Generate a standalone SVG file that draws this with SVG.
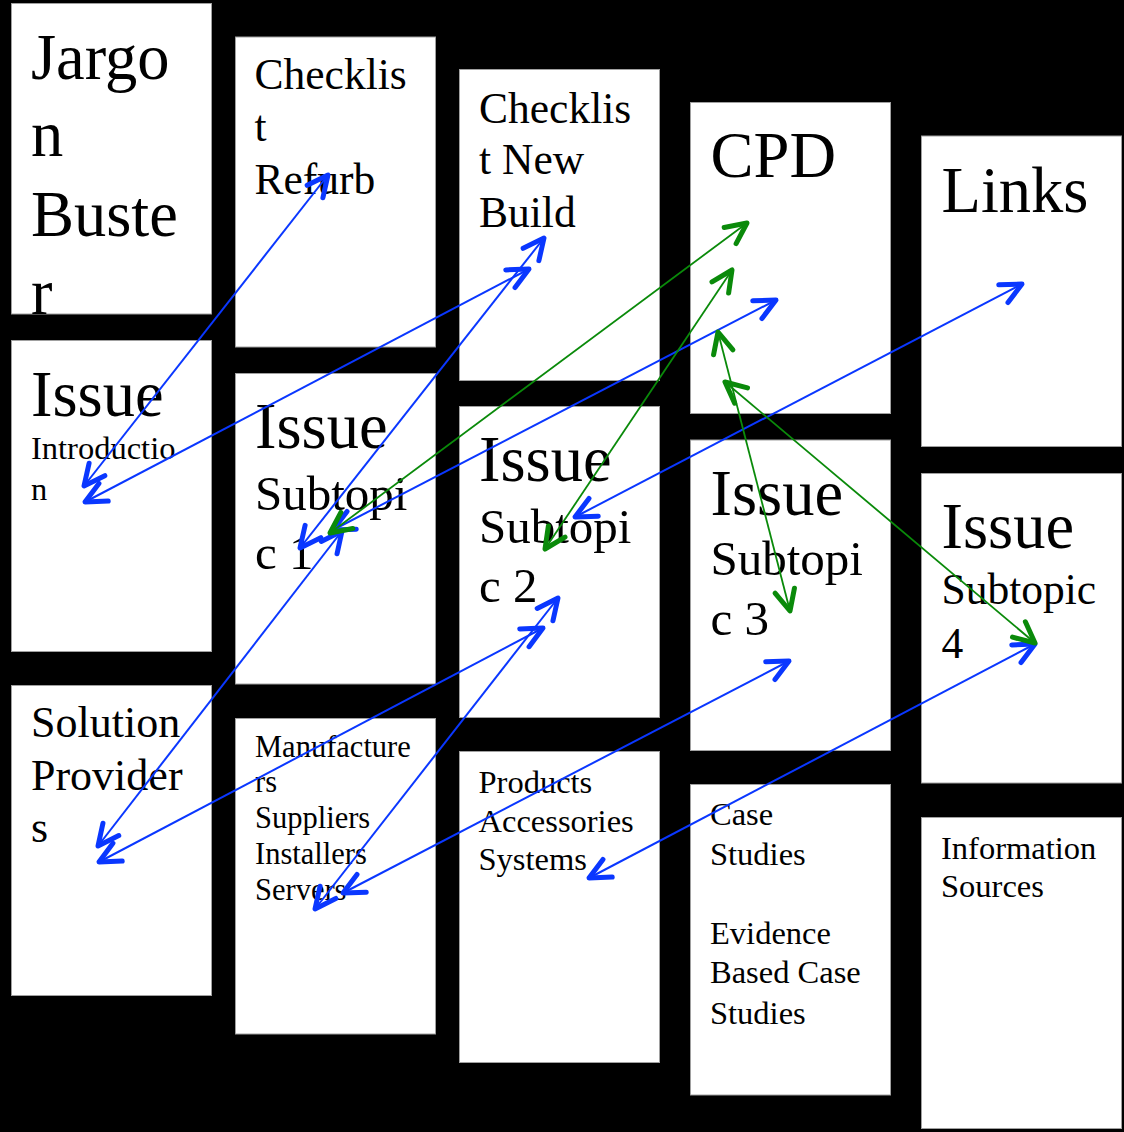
<svg xmlns="http://www.w3.org/2000/svg" width="1124" height="1132" viewBox="0 0 1124 1132">
<style>
.box{fill:#ffffff;stroke:#a0a0a0;stroke-width:1}
text{font-family:"Liberation Serif","Times New Roman",serif;fill:#000000}
.big{font-size:64.5px}
.sub49{font-size:49px}
.sub44{font-size:44px}
.sub43{font-size:43.5px}
.sub32{font-size:32.5px}
.sub30{font-size:30.5px}
.cb{fill:none;stroke:#0a37ff;stroke-width:2}
.cg{fill:none;stroke:#0a8a0a;stroke-width:1.8}
</style>
<defs>
<marker id="hb" markerUnits="userSpaceOnUse" markerWidth="40" markerHeight="40" viewBox="-30 -20 40 40" refX="0" refY="0" orient="auto-start-reverse" overflow="visible">
<path d="M-21,-10 L0,0 L-21,10" fill="none" stroke="#0a37ff" stroke-width="5" stroke-linecap="round" stroke-linejoin="round"/>
</marker>
<marker id="hg" markerUnits="userSpaceOnUse" markerWidth="40" markerHeight="40" viewBox="-30 -20 40 40" refX="0" refY="0" orient="auto-start-reverse" overflow="visible">
<path d="M-21,-10 L0,0 L-21,10" fill="none" stroke="#0a8a0a" stroke-width="5" stroke-linecap="round" stroke-linejoin="round"/>
</marker>
</defs>
<rect x="0" y="0" width="1124" height="1132" fill="#000000"/>

<g id="jargon-buster">
<rect class="box" x="11.5" y="3.5" width="200" height="310.5"/>
<text class="big" x="31"><tspan x="31" y="79">Jargo</tspan><tspan x="31" y="155.7">n</tspan><tspan x="31" y="235.7">Buste</tspan><tspan x="31" y="313.5">r</tspan></text>
</g>
<g id="issue-introduction">
<rect class="box" x="11.5" y="340.5" width="200" height="311"/>
<text class="big" x="31" y="415.7">Issue</text>
<text class="sub32" x="31"><tspan x="31" y="459.3">Introductio</tspan><tspan x="31" y="500">n</tspan></text>
</g>
<g id="solution-providers">
<rect class="box" x="11.5" y="685.5" width="200" height="310"/>
<text class="sub44"><tspan x="31" y="737.3">Solution</tspan><tspan x="31" y="790">Provider</tspan><tspan x="31" y="842.3">s</tspan></text>
</g>

<g id="checklist-refurb">
<rect class="box" x="235.5" y="37" width="200" height="310"/>
<text class="sub43"><tspan x="254.5" y="89.3">Checklis</tspan><tspan x="254.5" y="141">t</tspan><tspan x="254.5" y="194.3">Refurb</tspan></text>
</g>
<g id="issue-subtopic-1">
<rect class="box" x="235.5" y="373.5" width="200" height="310.5"/>
<text class="big" x="255" y="448.3">Issue</text>
<text class="sub49"><tspan x="255" y="510">Subtopi</tspan><tspan x="255" y="569.3">c 1</tspan></text>
</g>
<g id="manufacturers">
<rect class="box" x="235.5" y="718.5" width="200" height="315.5"/>
<text class="sub30"><tspan x="255" y="756.7">Manufacture</tspan><tspan x="255" y="791.7">rs</tspan><tspan x="255" y="828.3">Suppliers</tspan><tspan x="255" y="864.3">Installers</tspan><tspan x="255" y="900">Servers</tspan></text>
</g>

<g id="checklist-new-build">
<rect class="box" x="459.5" y="69.5" width="200" height="311"/>
<text class="sub43"><tspan x="479" y="122.7">Checklis</tspan><tspan x="479" y="174.3">t New</tspan><tspan x="479" y="226.7">Build</tspan></text>
</g>
<g id="issue-subtopic-2">
<rect class="box" x="459.5" y="406.5" width="200" height="311"/>
<text class="big" x="479" y="481">Issue</text>
<text class="sub49"><tspan x="479" y="542.7">Subtopi</tspan><tspan x="479" y="601.7">c 2</tspan></text>
</g>
<g id="products">
<rect class="box" x="459.5" y="751.5" width="200" height="311"/>
<text class="sub32"><tspan x="478.5" y="792.7">Products</tspan><tspan x="478.5" y="831.7">Accessories</tspan><tspan x="478.5" y="870">Systems</tspan></text>
</g>

<g id="cpd">
<rect class="box" x="690.5" y="102.5" width="200" height="311"/>
<text class="big" x="710.5" y="177.3">CPD</text>
</g>
<g id="issue-subtopic-3">
<rect class="box" x="690.5" y="440" width="200" height="310.5"/>
<text class="big" x="710.5" y="515">Issue</text>
<text class="sub49"><tspan x="710.5" y="575">Subtopi</tspan><tspan x="710.5" y="635">c 3</tspan></text>
</g>
<g id="case-studies">
<rect class="box" x="690.5" y="784.5" width="200" height="310.5"/>
<text class="sub32"><tspan x="710" y="825">Case</tspan><tspan x="710" y="865">Studies</tspan><tspan x="710" y="944.3">Evidence</tspan><tspan x="710" y="983.3">Based Case</tspan><tspan x="710" y="1024.3">Studies</tspan></text>
</g>

<g id="links">
<rect class="box" x="921.5" y="136" width="200" height="310.5"/>
<text class="big" x="941.5" y="211.7">Links</text>
</g>
<g id="issue-subtopic-4">
<rect class="box" x="921.5" y="473.5" width="200" height="309.5"/>
<text class="big" x="941.5" y="548.3">Issue</text>
<text class="sub43"><tspan x="941.5" y="604">Subtopic</tspan><tspan x="941.5" y="658">4</tspan></text>
</g>
<g id="information-sources">
<rect class="box" x="921.5" y="817.5" width="200" height="311"/>
<text class="sub32"><tspan x="941" y="859.3">Information</tspan><tspan x="941" y="897.3">Sources</tspan></text>
</g>

<g id="connectors">
<line class="cb" x1="84" y1="486" x2="328" y2="175" marker-start="url(#hb)" marker-end="url(#hb)"/>
<line class="cb" x1="85" y1="502" x2="529" y2="269" marker-start="url(#hb)" marker-end="url(#hb)"/>
<line class="cb" x1="300" y1="548" x2="544" y2="238" marker-start="url(#hb)" marker-end="url(#hb)"/>
<line class="cb" x1="333" y1="530" x2="776" y2="300" marker-start="url(#hb)" marker-end="url(#hb)"/>
<line class="cb" x1="98" y1="846" x2="342" y2="531" marker-start="url(#hb)" marker-end="url(#hb)"/>
<line class="cb" x1="99" y1="862" x2="543" y2="628" marker-start="url(#hb)" marker-end="url(#hb)"/>
<line class="cb" x1="315" y1="909" x2="558" y2="598" marker-start="url(#hb)" marker-end="url(#hb)"/>
<line class="cb" x1="343" y1="893" x2="789" y2="661" marker-start="url(#hb)" marker-end="url(#hb)"/>
<line class="cb" x1="589" y1="878" x2="1035" y2="644" marker-start="url(#hb)" marker-end="url(#hb)"/>
<line class="cb" x1="575" y1="517" x2="1022" y2="284" marker-start="url(#hb)" marker-end="url(#hb)"/>
<line class="cg" x1="330" y1="533" x2="747" y2="223" marker-start="url(#hg)" marker-end="url(#hg)"/>
<line class="cg" x1="545" y1="549" x2="732" y2="270" marker-start="url(#hg)" marker-end="url(#hg)"/>
<line class="cg" x1="718" y1="332" x2="790" y2="611" marker-start="url(#hg)" marker-end="url(#hg)"/>
<line class="cg" x1="725" y1="382" x2="1035" y2="643" marker-start="url(#hg)" marker-end="url(#hg)"/>
</g>
</svg>
